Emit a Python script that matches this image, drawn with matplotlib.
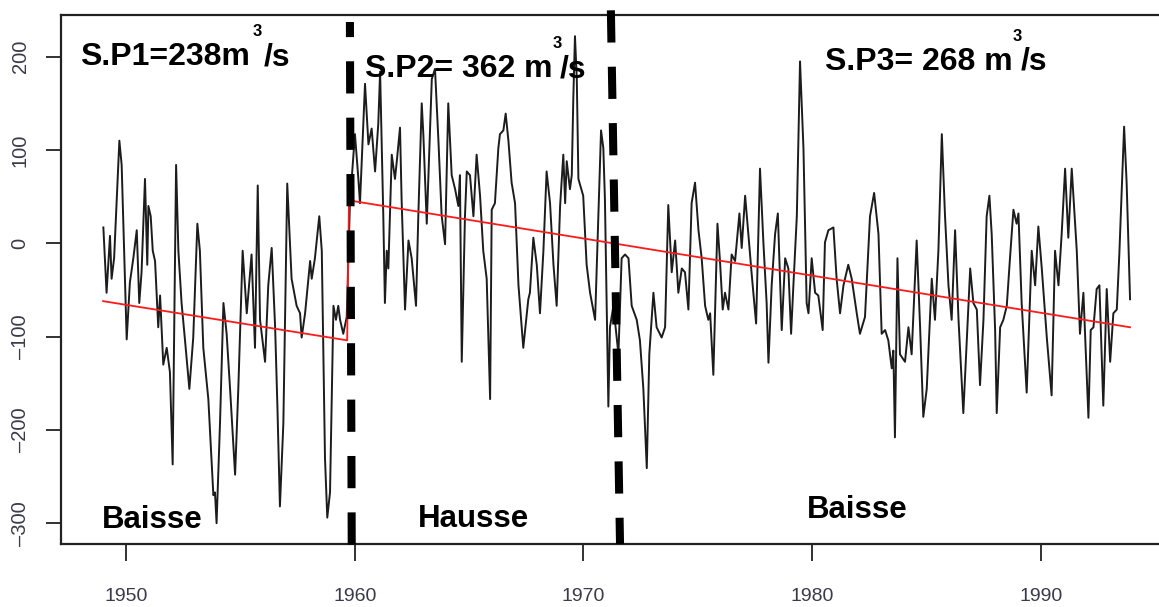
import matplotlib
matplotlib.use("Agg")
import matplotlib.pyplot as plt

# ---------------- data ----------------
years = [
    1949.01, 1949.15, 1949.30, 1949.37, 1949.48, 1949.71, 1949.81, 1950.03, 1950.17, 1950.32,
    1950.47, 1950.58, 1950.68, 1950.83, 1950.93, 1950.98, 1951.08, 1951.17, 1951.27, 1951.41,
    1951.49, 1951.63, 1951.78, 1951.92, 1952.04, 1952.19, 1952.29, 1952.43, 1952.58, 1952.77,
    1952.94, 1953.12, 1953.23, 1953.38, 1953.60, 1953.82, 1953.89, 1953.96, 1954.11, 1954.26,
    1954.40, 1954.55, 1954.77, 1954.91, 1955.10, 1955.28, 1955.49, 1955.64, 1955.76, 1955.86,
    1956.08, 1956.22, 1956.37, 1956.52, 1956.62, 1956.73, 1956.88, 1957.05, 1957.24, 1957.46,
    1957.61, 1957.68, 1957.83, 1958.05, 1958.12, 1958.26, 1958.45, 1958.56, 1958.70, 1958.80,
    1958.92, 1959.07, 1959.18, 1959.28, 1959.36, 1959.50, 1959.65, 1959.79, 1960.01, 1960.16,
    1960.23, 1960.45, 1960.60, 1960.74, 1960.89, 1961.03, 1961.11, 1961.25, 1961.32, 1961.40,
    1961.47, 1961.62, 1961.76, 1961.84, 1961.98, 1962.05, 1962.20, 1962.35, 1962.49, 1962.68,
    1962.78, 1962.93, 1963.00, 1963.15, 1963.37, 1963.51, 1963.66, 1963.80, 1963.95, 1964.09,
    1964.24, 1964.39, 1964.53, 1964.60, 1964.68, 1964.82, 1964.90, 1965.04, 1965.19, 1965.33,
    1965.48, 1965.62, 1965.77, 1965.92, 1965.99, 1966.13, 1966.28, 1966.35, 1966.50, 1966.60,
    1966.72, 1966.86, 1967.01, 1967.16, 1967.37, 1967.59, 1967.66, 1967.81, 1967.96, 1968.10,
    1968.25, 1968.39, 1968.54, 1968.69, 1968.83, 1968.98, 1969.12, 1969.20, 1969.27, 1969.41,
    1969.49, 1969.56, 1969.63, 1969.71, 1969.78, 1969.99, 1970.14, 1970.29, 1970.51, 1970.65,
    1970.77, 1970.87, 1970.94, 1971.09, 1971.16, 1971.31, 1971.53, 1971.67, 1971.82, 1971.97,
    1972.11, 1972.33, 1972.47, 1972.62, 1972.77, 1972.88, 1973.06, 1973.20, 1973.42, 1973.57,
    1973.71, 1973.86, 1974.01, 1974.15, 1974.30, 1974.44, 1974.59, 1974.73, 1974.88, 1975.03,
    1975.17, 1975.32, 1975.46, 1975.54, 1975.68, 1975.86, 1975.97, 1976.09, 1976.19, 1976.34,
    1976.48, 1976.63, 1976.82, 1976.92, 1977.07, 1977.21, 1977.36, 1977.55, 1977.72, 1977.87,
    1978.01, 1978.09, 1978.23, 1978.38, 1978.50, 1978.67, 1978.82, 1978.96, 1979.08, 1979.18,
    1979.33, 1979.47, 1979.62, 1979.76, 1979.84, 1979.98, 1980.13, 1980.27, 1980.46, 1980.56,
    1980.71, 1980.93, 1981.07, 1981.22, 1981.37, 1981.58, 1981.73, 1981.95, 1982.09, 1982.31,
    1982.53, 1982.71, 1982.90, 1983.04, 1983.19, 1983.33, 1983.48, 1983.55, 1983.62, 1983.73,
    1983.84, 1984.06, 1984.21, 1984.35, 1984.57, 1984.72, 1984.86, 1985.01, 1985.23, 1985.37,
    1985.52, 1985.67, 1985.81, 1985.96, 1986.10, 1986.25, 1986.40, 1986.61, 1986.76, 1986.91,
    1987.05, 1987.20, 1987.34, 1987.49, 1987.63, 1987.75, 1987.85, 1988.00, 1988.07, 1988.22,
    1988.36, 1988.51, 1988.65, 1988.80, 1988.94, 1989.02, 1989.16, 1989.38, 1989.60, 1989.75,
    1989.89, 1990.04, 1990.26, 1990.47, 1990.62, 1990.77, 1990.91, 1991.06, 1991.20, 1991.35,
    1991.57, 1991.71, 1991.86, 1992.08, 1992.18, 1992.30, 1992.44, 1992.56, 1992.73, 1992.88,
    1993.03, 1993.17, 1993.32, 1993.43, 1993.64, 1993.75, 1993.90,
]
flow = [
    17, -53, 8, -38, -16, 110, 84, -103, -42, -16,
    14, -64, -31, 69, -23, 40, 29, -8, -19, -90,
    -56, -130, -112, -138, -237, 84, -8, -64, -104, -156,
    -101, 21, -8, -112, -167, -270, -267, -300, -193, -64,
    -97, -156, -248, -156, -8, -75, -12, -112, 62, -82,
    -127, -45, -5, -90, -175, -282, -193, 64, -38, -67,
    -75, -101, -75, -19, -38, -16, 29, -8, -230, -294,
    -267, -67, -82, -67, -82, -97, -79, 43, 117, 69,
    43, 171, 106, 123, 77, 128, 184, 29, -64, -8,
    -27, 95, 69, 88, 124, 47, -71, 3, -16, -67,
    29, 150, 117, 21, 176, 187, 110, 30, -1, 150,
    73, 58, 40, 73, -127, 29, 77, 73, 29, 95,
    51, -8, -38, -167, 36, 43, 102, 117, 121, 139,
    110, 65, 43, -45, -112, -60, -53, 6, -23, -75,
    -8, 77, 43, -23, -67, 40, 95, 43, 88, 58,
    73, 158, 222, 176, 69, 51, -23, -53, -82, 29,
    121, 102, 47, -175, -90, -67, -119, -16, -12, -16,
    -67, -82, -104, -156, -241, -119, -53, -90, -101, -90,
    41, -31, 3, -53, -27, -31, -71, 43, 65, 14,
    -16, -67, -82, -75, -141, 21, -19, -71, -53, -71,
    -12, -19, 32, -5, 51, 10, -34, -86, 80, 0,
    -64, -128, -45, 10, 32, -93, -16, -27, -97, -45,
    29, 195, 102, -64, -75, -16, -53, -56, -93, 1,
    14, 17, -38, -75, -45, -23, -38, -75, -97, -79,
    29, 54, 10, -97, -93, -104, -134, -115, -208, -16,
    -119, -127, -90, -119, 3, -90, -186, -156, -38, -82,
    -8, 117, 29, -45, -82, 14, -82, -182, -104, -27,
    -64, -71, -152, -82, 29, 51, 10, -93, -182, -90,
    -82, -67, -16, 36, 21, 32, -64, -160, -8, -45,
    18, -27, -101, -163, -8, -45, 10, 80, 6, 80,
    -8, -97, -53, -187, -93, -90, -49, -45, -174, -49,
    -127, -75, -71, -12, 125, 65, -60,
]

# trend lines (red)
trend_years = [1949.0, 1959.67, 1959.75, 1993.9]
trend_values = [-62, -104, 46, -90]

# rupture (break) lines: year at the top and at the bottom of the dashed line
rupture_top_years = [1959.79, 1971.20]
rupture_bottom_years = [1959.87, 1971.60]

x_ticks = [1950, 1960, 1970, 1980, 1990]
y_ticks = [-300, -200, -100, 0, 100, 200]

mean_labels = ["S.P1=238m", "S.P2= 362 m", "S.P3= 268 m"]
trend_labels = ["Baisse", "Hausse", "Baisse"]

# ---------------- figure ----------------
W, H = 1159, 607
fig = plt.figure(figsize=(W / 100, H / 100), dpi=100)
ax = fig.add_axes([61 / W, 1 - 544 / H, (1171 - 61) / W, (544 - 15) / H])

ax.plot(years, flow, color="#1c1c1c", lw=1.4, solid_joinstyle="round", zorder=2)
ax.plot(trend_years, trend_values, color="#ff1a1a", lw=1.3, zorder=3)

ax.set_xlim(1947.158, 1995.69)
ax.set_ylim(-322.3, 244.7)

# dashed break lines
lw_d = 5.8
ax.plot([rupture_top_years[0], rupture_bottom_years[0]], [237.2, -328.7],
        color="black", lw=lw_d, linestyle=(2.125, (4.0, 3.0)),
        solid_capstyle="butt", dash_capstyle="butt", clip_on=False, zorder=4)
ax.plot([rupture_top_years[1], rupture_bottom_years[1]], [249.7, -322.3],
        color="black", lw=lw_d, linestyle=(0, (4.0, 3.0)),
        solid_capstyle="butt", dash_capstyle="butt", clip_on=False, zorder=4)

# axes styling (R base graphics look)
for s in ["left", "bottom", "top"]:
    ax.spines[s].set_linewidth(1.6)
    ax.spines[s].set_color("#222222")
ax.spines["right"].set_visible(False)

ax.set_xticks(x_ticks)
ax.set_xticklabels([str(v) for v in x_ticks])
ax.set_yticks(y_ticks)
ax.set_yticklabels([str(v).replace("-", "\u2013") for v in y_ticks])
ax.tick_params(axis="x", length=12.5, width=1.3, color="#222222", pad=19,
               labelsize=14, labelcolor="#3a3a4a")
ax.tick_params(axis="y", length=10.5, width=1.3, color="#222222", pad=12,
               labelsize=14.5, labelcolor="#3a3a4a", labelrotation=90)
for lab in ax.get_yticklabels():
    lab.set_verticalalignment("center")
for lab in ax.get_xticklabels() + ax.get_yticklabels():
    lab.set_fontfamily("Liberation Sans")

# ---------------- annotations ----------------
def ftext(px, py, s, size, **kw):
    fig.text(px / W, 1 - py / H, s, fontsize=size, fontweight="bold",
             family="Liberation Sans", va="baseline", ha="left", color="black", **kw)

big = 23
sup = 12
ftext(80, 65, mean_labels[0], big)
ftext(253, 36, "3", sup)
ftext(264, 65, "/s", big)

ftext(365, 77, mean_labels[1], big)
ftext(553, 48, "3", sup)
ftext(560, 77, "/s", big)

ftext(825, 70, mean_labels[2], big)
ftext(1013, 41, "3", sup)
ftext(1021, 70, "/s", big)

ftext(102, 528, trend_labels[0], 22.5)
ftext(418, 527, trend_labels[1], 22.5)
ftext(807, 518, trend_labels[2], 22.5)

fig.savefig("out.png", dpi=100)
